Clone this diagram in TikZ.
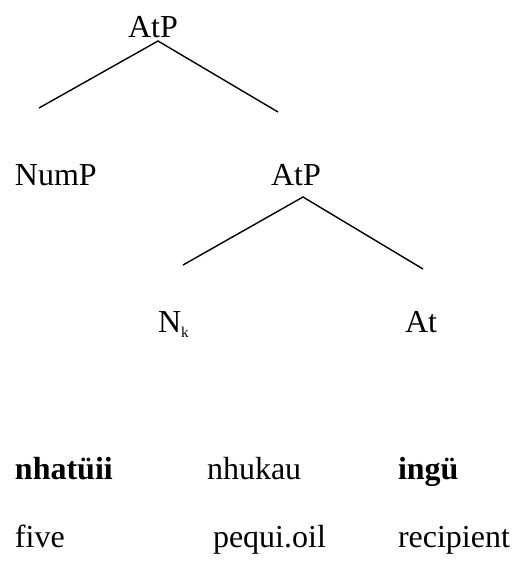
\documentclass[tikz,border=0pt]{standalone}
\usepackage{fontspec}
\setmainfont{Liberation Serif}
\begin{document}
\begin{tikzpicture}[x=1pt,y=-1pt,
  lbl/.style={anchor=base west,inner sep=0pt,outer sep=0pt,font=\fontsize{32}{38}\selectfont},
  branch/.style={line width=1.4pt}]
\useasboundingbox (0,0) rectangle (515,563);
% tree labels
\node[lbl] (root) at (128,37) {AtP};
\node[lbl] (nump) at (15,185) {NumP};
\node[lbl] (atp) at (271,185) {AtP};
\node[lbl] (nk) at (158,332) {N\raisebox{-5pt}{\fontsize{15}{15}\selectfont k}};
\node[lbl] (at) at (405,332) {At};
% branch end points
\coordinate (rootfoot) at (158,41);
\coordinate (numptop) at (39,108);
\coordinate (atptop) at (278,112);
\coordinate (atpfoot) at (303,197);
\coordinate (nktop) at (183,265);
\coordinate (attop) at (423,269);
\draw[branch] (numptop) -- (rootfoot) -- (atptop);
\draw[branch] (nktop) -- (atpfoot) -- (attop);
% example words and glosses
\node[lbl,font=\fontsize{32}{38}\selectfont\bfseries] (w1) at (15,479) {nhatüii};
\node[lbl] (w2) at (207,479) {nhukau};
\node[lbl,font=\fontsize{32}{38}\selectfont\bfseries] (w3) at (398,479) {ingü};
\node[lbl] (g1) at (15,547) {five};
\node[lbl] (g2) at (213,547) {pequi.oil};
\node[lbl] (g3) at (398,547) {recipient};
\end{tikzpicture}
\end{document}
